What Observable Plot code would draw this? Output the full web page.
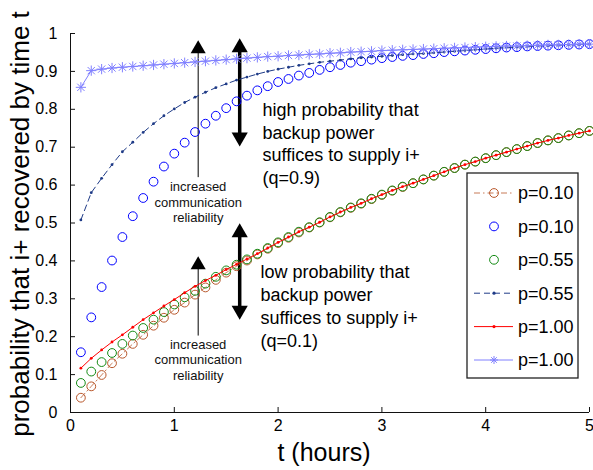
<!DOCTYPE html>
<html>
<head>
<meta charset="utf-8">
<script src="https://cdn.jsdelivr.net/npm/d3@7"></script>
<script src="https://cdn.jsdelivr.net/npm/@observablehq/plot@0.6"></script>
<style>
  html, body { margin: 0; padding: 0; background: #fff; }
  #chart { width: 593px; height: 470px; position: relative; }
  svg { font-family: "Liberation Sans", Arial, Helvetica, sans-serif; }
</style>
</head>
<body>
<div id="chart"></div>
<script>
// ---- data ----
const t = [0.1,0.2,0.3,0.4,0.5,0.6,0.7,0.8,0.9,1.0,
           1.1,1.2,1.3,1.4,1.5,1.6,1.7,1.8,1.9,2.0,
           2.1,2.2,2.3,2.4,2.5,2.6,2.7,2.8,2.9,3.0,
           3.1,3.2,3.3,3.4,3.5,3.6,3.7,3.8,3.9,4.0,
           4.1,4.2,4.3,4.4,4.5,4.6,4.7,4.8,4.9,5.0];

// q = 0.1 (low probability that backup power suffices)
const lowP010 = [0.039,0.069,0.099,0.130,0.155,0.181,0.205,0.229,0.250,0.271,
                 0.290,0.311,0.330,0.350,0.369,0.386,0.401,0.417,0.432,0.447,
                 0.461,0.475,0.488,0.501,0.515,0.528,0.540,0.551,0.563,0.574,
                 0.585,0.595,0.605,0.615,0.625,0.635,0.645,0.654,0.662,0.671,
                 0.679,0.687,0.695,0.703,0.711,0.718,0.724,0.731,0.737,0.743];
const lowP055 = [0.078,0.108,0.133,0.157,0.181,0.203,0.223,0.245,0.265,0.285,
                 0.304,0.321,0.340,0.358,0.375,0.390,0.404,0.419,0.434,0.449,
                 0.463,0.477,0.489,0.502,0.516,0.529,0.541,0.552,0.564,0.575,
                 0.586,0.596,0.605,0.615,0.625,0.635,0.645,0.654,0.662,0.671,
                 0.679,0.687,0.695,0.703,0.711,0.718,0.724,0.731,0.737,0.743];
const lowP100 = [0.117,0.143,0.165,0.186,0.205,0.225,0.245,0.263,0.281,0.298,
                 0.316,0.333,0.348,0.362,0.377,0.391,0.405,0.419,0.434,0.449,
                 0.463,0.477,0.489,0.502,0.516,0.529,0.541,0.552,0.564,0.575,
                 0.586,0.596,0.605,0.615,0.625,0.635,0.645,0.654,0.662,0.671,
                 0.679,0.687,0.695,0.703,0.711,0.718,0.724,0.731,0.737,0.743];

// q = 0.9 (high probability that backup power suffices)
const highP010 = [0.159,0.251,0.331,0.401,0.463,0.518,0.566,0.609,0.649,0.683,
                  0.712,0.740,0.762,0.783,0.803,0.821,0.836,0.850,0.861,0.872,
                  0.880,0.889,0.896,0.904,0.911,0.917,0.923,0.927,0.931,0.935,
                  0.938,0.941,0.943,0.946,0.948,0.951,0.953,0.955,0.957,0.959,
                  0.961,0.963,0.964,0.966,0.967,0.968,0.969,0.970,0.971,0.972];
const highP055 = [0.508,0.580,0.618,0.654,0.688,0.713,0.739,0.762,0.783,0.801,
                  0.818,0.832,0.845,0.857,0.867,0.877,0.885,0.893,0.900,0.906,
                  0.911,0.916,0.920,0.924,0.927,0.930,0.933,0.936,0.938,0.940,
                  0.942,0.944,0.946,0.947,0.949,0.951,0.953,0.955,0.957,0.959,
                  0.961,0.963,0.964,0.966,0.967,0.968,0.969,0.970,0.971,0.972];
const highP100 = [0.858,0.902,0.906,0.909,0.911,0.913,0.915,0.917,0.919,0.921,
                  0.923,0.925,0.927,0.929,0.931,0.933,0.935,0.937,0.939,0.940,
                  0.942,0.943,0.945,0.946,0.948,0.949,0.951,0.952,0.953,0.955,
                  0.956,0.957,0.958,0.959,0.960,0.961,0.962,0.963,0.964,0.965,
                  0.966,0.967,0.967,0.968,0.969,0.970,0.970,0.971,0.972,0.972];

const xTicks = [0,1,2,3,4,5];
const yTicks = [0,0.1,0.2,0.3,0.4,0.5,0.6,0.7,0.8,0.9,1];
const yTickLabels = ["0","0.1","0.2","0.3","0.4","0.5","0.6","0.7","0.8","0.9","1"];
const legendLabels = ["p=0.10","p=0.10","p=0.55","p=0.55","p=1.00","p=1.00"];

// annotations (data units)
const thinArrows = [{x: 1.23, y1: 0.621, y2: 0.982}, {x: 1.23, y1: 0.203, y2: 0.412}];
const thickArrows = [{x: 1.63, y1: 0.702, y2: 0.987}, {x: 1.63, y1: 0.245, y2: 0.499}];
const smallNotes = [{x: 1.23, y: 0.612, text: "increased\ncommunication\nreliability"},
                    {x: 1.23, y: 0.196, text: "increased\ncommunication\nreliability"}];
const bigNotes = [{x: 1.85, y: 0.826, text: "high probability that\nbackup power\nsuffices to supply i+\n(q=0.9)"},
                  {x: 1.83, y: 0.397, text: "low probability that\nbackup power\nsuffices to supply i+\n(q=0.1)"}];

// ---- styles ----
const C = {
  brown: "#b9582c", blue: "#0000ff", green: "#138a13",
  navy: "#1f3b87", red: "#ff0000", light: "#8080ff", axis: "#111"
};
const font = '"Liberation Sans", Arial, Helvetica, sans-serif';

const pts = (arr) => t.map((x, i) => ({x, y: arr[i]}));

const thinLines = thinArrows.map(d => ({x: d.x, y1: d.y1, y2: d.y2 - 0.02}));
const thickLines = thickArrows.map(d => ({x: d.x, y1: d.y1 + 0.025, y2: d.y2 - 0.025}));

const R = 4.4;

const plot = Plot.plot({
  width: 593,
  height: 470,
  marginLeft: 70,
  marginRight: 4,
  marginTop: 33,
  marginBottom: 58,
  style: {fontFamily: font, background: "white", overflow: "visible"},
  x: {domain: [0, 5]},
  y: {domain: [0, 1]},
  marks: [
    // axes
    Plot.axisX({ticks: xTicks, tickSize: -5, tickPadding: 12, fontSize: 16, fill: "#000",
      stroke: C.axis, label: null, tickFormat: d => String(d)}),
    Plot.axisY({ticks: yTicks, tickSize: -5, tickPadding: 18, fontSize: 16, fill: "#000",
      stroke: C.axis, label: null, tickFormat: (d, i) => yTickLabels[i]}),
    Plot.ruleY([0], {stroke: C.axis, strokeWidth: 1}),
    Plot.ruleX([0], {stroke: C.axis, strokeWidth: 1}),

    // annotation arrows
    Plot.link(thinLines, {x1: "x", x2: "x", y1: "y1", y2: "y2", stroke: "#000", strokeWidth: 1}),
    Plot.dot(thinArrows, {x: "x", y: "y2", symbol: "triangle", r: 5.6, fill: "#000", stroke: null, dy: 8.6}),
    Plot.link(thickLines, {x1: "x", x2: "x", y1: "y1", y2: "y2", stroke: "#000", strokeWidth: 3.5}),
    Plot.dot(thickArrows, {x: "x", y: "y2", symbol: "triangle", r: 6, fill: "#000", stroke: null, dy: 9.2}),
    Plot.dot(thickArrows, {x: "x", y: "y1", symbol: "triangle", r: 6, rotate: 180, fill: "#000", stroke: null, dy: -9.2}),
    Plot.text(smallNotes, {x: "x", y: "y", text: "text", fontSize: 13, lineHeight: 1.18, fill: "#111", textAnchor: "middle", lineAnchor: "top"}),
    Plot.text(bigNotes, {x: "x", y: "y", text: "text", fontSize: 18, lineHeight: 1.27, fill: "#000", textAnchor: "start", lineAnchor: "top"}),

    // q=0.1, p=0.10 : brown dash-dot with open circles
    Plot.line(pts(lowP010), {x: "x", y: "y", stroke: C.brown, strokeWidth: 0.8, strokeDasharray: "6,3,1.5,3"}),
    Plot.dot(pts(lowP010), {x: "x", y: "y", r: R, stroke: C.brown, strokeWidth: 1, fill: "none"}),
    // q=0.9, p=0.10 : blue circles
    Plot.dot(pts(highP010), {x: "x", y: "y", r: R, stroke: C.blue, strokeWidth: 1, fill: "none"}),
    // q=0.1, p=0.55 : green circles
    Plot.dot(pts(lowP055), {x: "x", y: "y", r: R, stroke: C.green, strokeWidth: 1, fill: "none"}),
    // q=0.9, p=0.55 : navy dashed with dots
    Plot.line(pts(highP055), {x: "x", y: "y", stroke: C.navy, strokeWidth: 1, strokeDasharray: "6,4"}),
    Plot.dot(pts(highP055), {x: "x", y: "y", r: 1.4, fill: C.navy, stroke: null}),
    // q=0.1, p=1.00 : red solid with dots
    Plot.line(pts(lowP100), {x: "x", y: "y", stroke: C.red, strokeWidth: 1}),
    Plot.dot(pts(lowP100), {x: "x", y: "y", r: 1.4, fill: C.red, stroke: null}),
    // q=0.9, p=1.00 : light blue solid with stars
    Plot.line(pts(highP100), {x: "x", y: "y", stroke: C.light, strokeWidth: 1}),
    Plot.dot(pts(highP100), {x: "x", y: "y", symbol: "plus", r: 3.4, stroke: C.light, strokeWidth: 1}),
    Plot.dot(pts(highP100), {x: "x", y: "y", symbol: "times", r: 3.4, stroke: C.light, strokeWidth: 1})
  ]
});

document.getElementById("chart").appendChild(plot);

// ---- axis titles & legend (layout via d3) ----
const svg = d3.select(plot);
svg.append("text")
  .attr("transform", "translate(29,224) rotate(-90)")
  .attr("text-anchor", "middle")
  .attr("font-family", font).attr("font-size", 26).attr("fill", "#000")
  .text("probability that i+ recovered by time t");
svg.append("text")
  .attr("x", 324).attr("y", 461)
  .attr("text-anchor", "middle")
  .attr("font-family", font).attr("font-size", 25).attr("fill", "#000")
  .text("t (hours)");

const lg = svg.append("g").attr("transform", "translate(467,173)");
lg.append("rect").attr("width", 111).attr("height", 205)
  .attr("fill", "#fff").attr("stroke", "#222").attr("stroke-width", 1.3);
const styles = [
  {stroke: C.brown, dash: "6,3,1.5,3", marker: "circle", sw: 0.8},
  {stroke: C.blue, dash: null, marker: "circle", noLine: true},
  {stroke: C.green, dash: null, marker: "circle", noLine: true},
  {stroke: C.navy, dash: "6,4", marker: "point", sw: 1},
  {stroke: C.red, dash: null, marker: "point", sw: 1},
  {stroke: C.light, dash: null, marker: "star", sw: 1}
];
styles.forEach((s, i) => {
  const y = 20 + i * 33.4;
  const g = lg.append("g").attr("transform", `translate(0,${y})`);
  if (!s.noLine) {
    g.append("line").attr("x1", 7).attr("x2", 46).attr("y1", 0).attr("y2", 0)
      .attr("stroke", s.stroke).attr("stroke-width", s.sw)
      .attr("stroke-dasharray", s.dash);
  }
  if (s.marker === "circle") {
    g.append("circle").attr("cx", 27).attr("cy", 0).attr("r", R)
      .attr("fill", "none").attr("stroke", s.stroke).attr("stroke-width", 1);
  } else if (s.marker === "point") {
    g.append("circle").attr("cx", 27).attr("cy", 0).attr("r", 1.6).attr("fill", s.stroke);
  } else if (s.marker === "star") {
    g.append("path").attr("d", "M23,0H31M27,-4V4M24.2,-2.8L29.8,2.8M24.2,2.8L29.8,-2.8")
      .attr("stroke", s.stroke).attr("stroke-width", 1);
  }
  g.append("text").attr("x", 51).attr("y", 0).attr("dy", "0.35em")
    .attr("text-anchor", "start")
    .attr("font-family", font).attr("font-size", 18).attr("fill", "#000")
    .text(legendLabels[i]);
});
</script>
</body>
</html>
